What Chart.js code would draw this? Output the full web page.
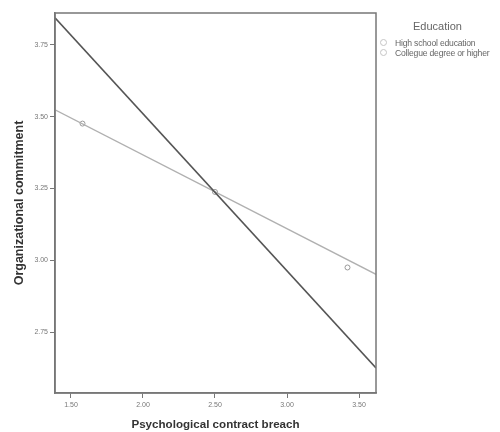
<!DOCTYPE html>
<html><head><meta charset="utf-8">
<script src="https://cdn.jsdelivr.net/npm/chart.js@4"></script>
<style>
html,body{margin:0;padding:0;background:#fff;}
#wrap{position:relative;width:500px;height:432px;}
#legend{position:absolute;left:380px;top:19px;font-family:"Liberation Sans",Arial,sans-serif;color:#666;}
#legend .title{font-size:11px;margin-left:33px;height:14px;line-height:14px;margin-bottom:5px;}
#legend .item{font-size:8.6px;height:10px;line-height:10px;white-space:nowrap;letter-spacing:-0.2px;}
#legend .sw{display:inline-block;width:5px;height:5px;border:1px solid #c4c4c4;border-radius:50%;margin-right:8px;vertical-align:0px;}
</style></head>
<body><div id="wrap"><canvas id="c" width="500" height="432"></canvas><div id="legend"></div></div>
<script>
const legendTitle = "Education";
const seriesNames = ["High school education", "Collegue degree or higher"];
const breachX = [1.389, 3.618];
const highSchool = [3.844, 2.625];
const college = [3.524, 2.951];
const collegeMarkX = [1.58, 2.50, 3.42];
const collegeMarkY = [3.476, 3.238, 2.975];
const xTicks = [1.50, 2.00, 2.50, 3.00, 3.50];
const yTicks = [2.75, 3.00, 3.25, 3.50, 3.75];
const xTitle = "Psychological contract breach";
const yTitle = "Organizational commitment";

const colors = ["#555555", "#b0b0b0"];

const boxPlugin = {
  id: 'box',
  afterDraw(chart){
    const a = chart.chartArea, ctx = chart.ctx;
    ctx.save();
    ctx.strokeStyle = '#777';
    ctx.lineWidth = 1.5;
    ctx.strokeRect(a.left, a.top, a.right - a.left, a.bottom - a.top);
    ctx.restore();
  }
};

new Chart(document.getElementById('c'), {
  type: 'scatter',
  data: {
    datasets: [
      { label: seriesNames[0], data: breachX.map((x,i)=>({x, y: highSchool[i]})), showLine: true,
        borderColor: colors[0], borderWidth: 1.6, pointRadius: 0 },
      { label: seriesNames[1], data: breachX.map((x,i)=>({x, y: college[i]})), showLine: true,
        borderColor: colors[1], borderWidth: 1.4, pointRadius: 0 },
      { label: seriesNames[1] + ' markers', data: collegeMarkX.map((x,i)=>({x, y: collegeMarkY[i]})), showLine: false,
        pointRadius: 2.5, pointBackgroundColor: 'rgba(0,0,0,0)', borderColor: '#999', pointBorderWidth: 1 }
    ]
  },
  options: {
    responsive: false,
    animation: false,
    layout: { padding: { left: 0, right: 124, top: 13, bottom: 0 } },
    plugins: { legend: { display: false }, tooltip: { enabled: false } },
    scales: {
      x: {
        type: 'linear', min: breachX[0], max: breachX[1],
        afterBuildTicks(s){ s.ticks = xTicks.map(v=>({value:v})); },
        afterFit(s){ s.height = 39; },
        grid: { drawOnChartArea: false, drawTicks: true, tickLength: 5, color: '#777' },
        border: { color: '#777', width: 1.5 },
        ticks: { color: '#777', font: { family: 'Liberation Sans', size: 7 }, padding: 3,
          callback: v => Number(v).toFixed(2) },
        title: { display: true, text: xTitle, color: '#333', font: { family: 'Liberation Sans', size: 11.6, weight: 'bold' }, padding: { top: 3, bottom: 0 } }
      },
      y: {
        type: 'linear', min: 2.538, max: 3.861,
        afterBuildTicks(s){ s.ticks = yTicks.map(v=>({value:v})); },
        afterFit(s){ s.width = 55; },
        grid: { drawOnChartArea: false, drawTicks: true, tickLength: 5, color: '#777' },
        border: { color: '#777', width: 1.5 },
        ticks: { color: '#777', font: { family: 'Liberation Sans', size: 7 }, padding: 2,
          callback: v => Number(v).toFixed(2) },
        title: { display: true, text: yTitle, color: '#333', font: { family: 'Liberation Sans', size: 12.5, weight: 'bold' }, padding: { top: 12, bottom: 4 } }
      }
    }
  },
  plugins: [boxPlugin]
});

const lg = document.getElementById('legend');
lg.innerHTML = '<div class="title">' + legendTitle + '</div>' +
  seriesNames.map(n => '<div class="item"><span class="sw"></span>' + n + '</div>').join('');
</script>
</body></html>
